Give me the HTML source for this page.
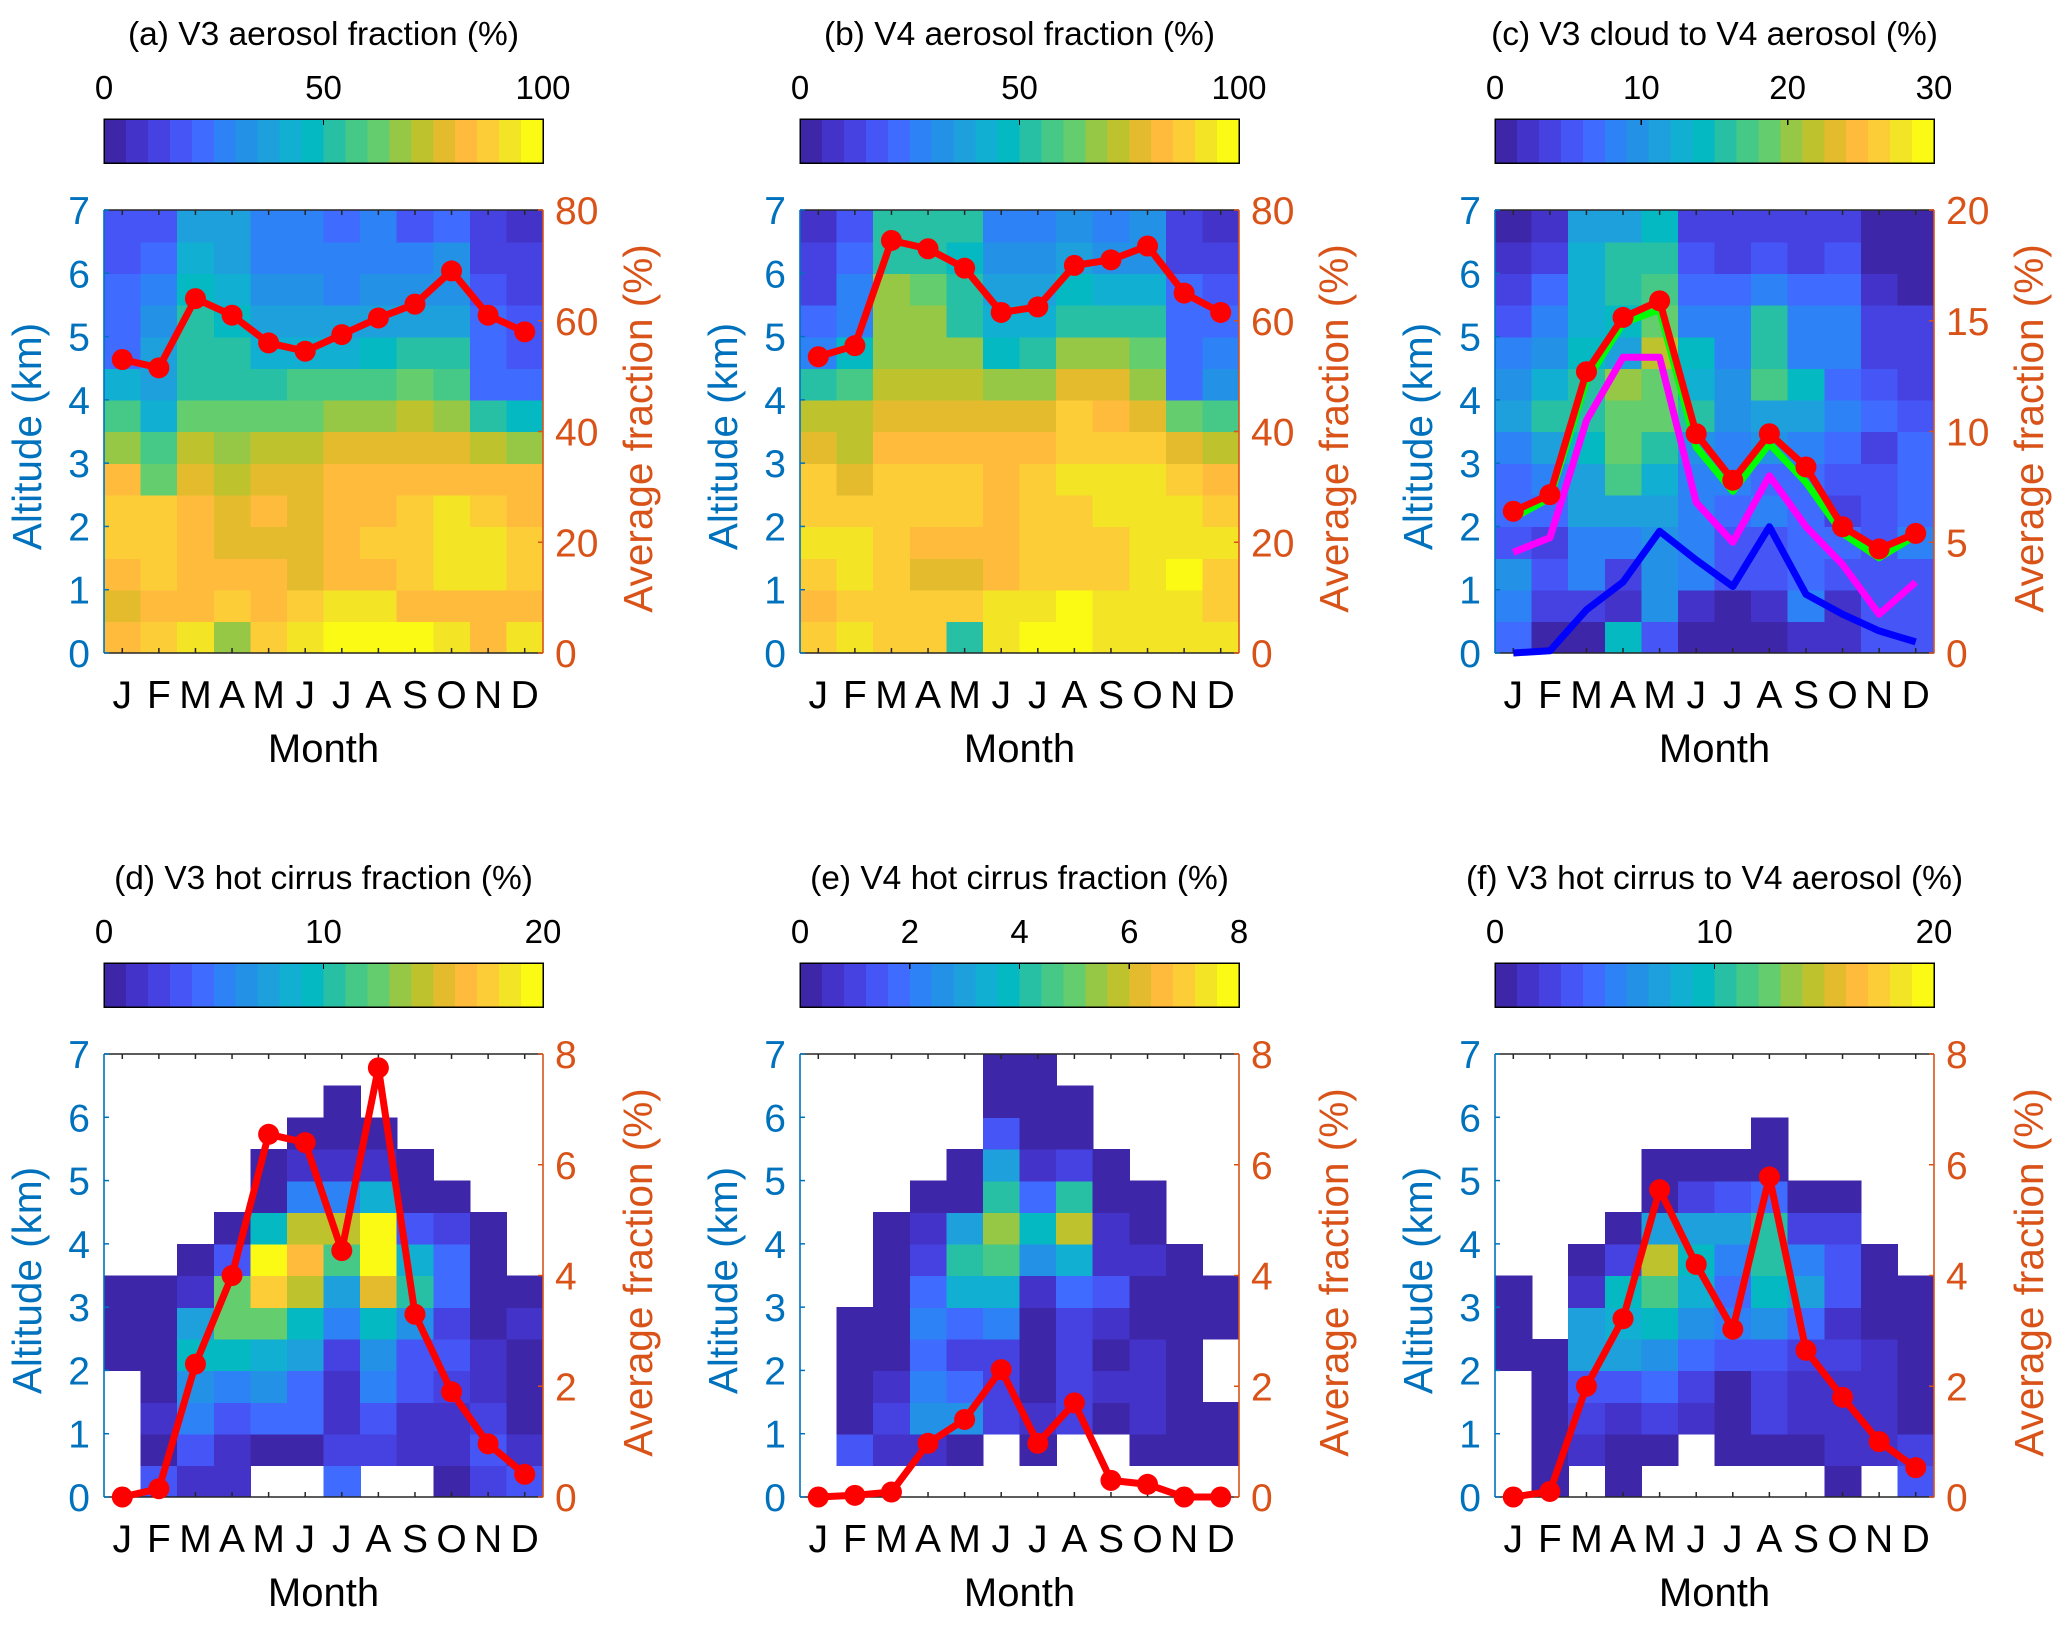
<!DOCTYPE html>
<html><head><meta charset="utf-8">
<style>
html,body{margin:0;padding:0;background:#fff;}
svg{display:block;font-family:"Liberation Sans",Arial,sans-serif;}
</style></head>
<body>
<svg id="fig" width="2067" height="1625" viewBox="0 0 2067 1625" xmlns="http://www.w3.org/2000/svg"></svg>
<script>
// ---------- data ----------
const months = ["J","F","M","A","M","J","J","A","S","O","N","D"];
const altTicks = [0,1,2,3,4,5,6,7];
// heat arrays: colour-bin level (0..19) per cell, rows from 0-0.5 km (first) to 6.5-7 km (last); null = no data
const heatA = [
 [16,17,18,13,17,18,19,19,19,18,16,18],
 [15,16,16,17,16,17,18,18,16,16,16,16],
 [16,17,16,16,16,15,16,16,17,18,18,17],
 [17,17,16,15,15,15,16,17,17,18,18,17],
 [17,17,16,15,16,15,16,16,17,18,17,16],
 [16,12,15,14,15,15,16,16,16,16,16,16],
 [13,11,14,13,14,14,15,15,15,15,14,13],
 [11,8,12,12,12,12,13,13,14,13,10,9],
 [8,7,10,10,10,11,11,11,12,11,4,4],
 [4,7,10,10,8,8,8,9,10,10,4,3],
 [4,6,10,9,7,7,7,7,7,7,4,3],
 [4,5,9,8,6,6,5,6,6,6,3,2],
 [3,4,8,7,5,5,5,5,5,6,2,2],
 [3,3,7,7,5,5,4,5,3,4,2,1]];
const heatB = [
 [17,18,17,17,10,18,19,19,18,18,18,18],
 [16,17,17,17,17,18,18,19,18,18,18,17],
 [17,18,17,15,15,16,17,17,17,18,19,17],
 [18,18,17,16,16,16,17,17,17,18,18,18],
 [17,17,17,17,17,16,17,17,18,18,18,17],
 [17,15,17,17,17,16,17,18,18,18,17,16],
 [15,14,16,16,16,16,16,17,17,17,15,14],
 [14,14,15,15,15,15,15,17,16,15,12,11],
 [10,11,14,14,14,13,13,15,15,13,4,6],
 [5,9,13,13,13,9,10,13,13,12,4,5],
 [4,5,13,13,10,8,8,10,10,10,4,4],
 [2,5,13,12,10,7,7,9,8,8,4,3],
 [2,4,10,10,9,6,6,7,6,6,2,2],
 [1,3,10,10,10,5,5,6,5,6,2,1]];
const heatC = [
 [4,0,0,9,3,0,0,0,1,1,3,3],
 [5,2,2,1,6,1,0,1,5,1,3,3],
 [6,3,5,2,6,5,3,3,4,3,3,3],
 [3,2,5,5,6,5,3,3,4,4,3,5],
 [4,4,7,7,7,5,4,5,4,2,3,4],
 [4,5,7,11,8,5,5,4,4,3,3,4],
 [5,7,9,12,10,6,5,6,5,4,2,4],
 [7,10,10,12,12,10,6,7,7,5,4,3],
 [6,8,10,13,12,8,6,11,9,4,3,2],
 [5,6,9,7,14,9,5,10,5,5,2,2],
 [3,5,8,9,12,5,5,10,5,5,2,2],
 [2,4,8,10,11,4,4,5,4,4,1,0],
 [1,2,8,10,10,3,2,3,2,3,0,0],
 [0,1,7,7,9,2,2,2,2,2,0,0]];
const _ = null;
const heatD = [
 [_,3,1,1,_,_,4,_,_,0,2,3],
 [_,0,3,1,0,0,2,2,1,1,3,1],
 [_,1,5,3,4,4,1,3,1,1,2,0],
 [_,0,6,5,6,4,1,5,3,2,1,0],
 [0,0,9,9,8,7,2,6,3,3,1,0],
 [0,0,7,12,12,9,5,9,6,2,0,1],
 [0,0,1,12,17,14,7,15,10,4,0,0],
 [_,_,0,3,19,16,11,19,8,4,0,_],
 [_,_,_,0,9,14,14,19,3,2,0,_],
 [_,_,_,_,0,5,5,8,0,0,_,_],
 [_,_,_,_,0,1,1,1,0,_,_,_],
 [_,_,_,_,_,0,0,0,_,_,_,_],
 [_,_,_,_,_,_,0,_,_,_,_,_],
 [_,_,_,_,_,_,_,_,_,_,_,_]];
const heatE = [
 [_,_,_,_,_,_,_,_,_,_,_,_],
 [_,3,1,1,0,_,0,_,_,0,0,0],
 [_,0,2,6,6,2,1,2,0,1,0,0],
 [_,0,1,5,4,2,0,2,1,1,0,_],
 [_,0,0,4,2,2,0,2,0,1,0,_],
 [_,0,0,5,4,5,0,2,1,0,0,0],
 [_,_,0,4,8,8,1,4,3,0,0,0],
 [_,_,0,2,10,11,6,8,1,1,0,_],
 [_,_,0,1,7,13,9,14,1,0,_,_],
 [_,_,_,0,0,10,4,10,0,0,_,_],
 [_,_,_,_,0,7,1,2,0,_,_,_],
 [_,_,_,_,_,3,0,0,_,_,_,_],
 [_,_,_,_,_,0,0,0,_,_,_,_],
 [_,_,_,_,_,0,0,_,_,_,_,_]];
const heatF = [
 [_,0,_,0,_,_,_,_,_,0,_,3],
 [_,0,1,0,0,_,0,0,0,1,1,2],
 [_,0,2,1,2,1,0,2,1,1,1,0],
 [_,0,3,3,4,2,0,2,1,1,1,0],
 [0,0,7,7,6,4,3,3,2,2,1,0],
 [0,_,7,8,9,6,5,6,4,1,0,0],
 [0,_,1,9,11,8,4,9,7,3,0,0],
 [_,_,0,2,14,9,5,10,5,3,0,_],
 [_,_,_,0,7,7,7,10,2,2,_,_],
 [_,_,_,_,0,2,3,4,0,0,_,_],
 [_,_,_,_,0,0,0,0,_,_,_,_],
 [_,_,_,_,_,_,_,0,_,_,_,_],
 [_,_,_,_,_,_,_,_,_,_,_,_],
 [_,_,_,_,_,_,_,_,_,_,_,_]];
// line series (right axis, %)
const avgA = [53,51.5,64,61,56,54.5,57.5,60.5,63,69,61,58];
const avgB = [53.5,55.5,74.5,73,69.5,61.5,62.5,70,71,73.5,65,61.5];
const avgCred = [6.4,7.15,12.7,15.15,15.9,9.9,7.8,9.9,8.4,5.7,4.7,5.4];
const avgCgreen = [6.1,7.0,12.3,14.9,15.5,9.3,7.3,9.45,7.7,5.4,4.3,5.3];
const avgCmag = [4.55,5.2,10.5,13.35,13.35,6.8,5.0,8.0,5.7,4.0,1.75,3.2];
const avgCblue = [0,0.1,1.95,3.2,5.5,4.2,3.0,5.7,2.65,1.75,1.0,0.5];
const avgD = [0,0.15,2.4,4.0,6.55,6.4,4.45,7.75,3.3,1.9,0.96,0.41];
const avgE = [0,0.03,0.09,0.97,1.4,2.3,0.97,1.7,0.3,0.23,0,0];
const avgF = [0,0.1,2.0,3.22,5.55,4.2,3.03,5.78,2.65,1.8,1.0,0.53];
const cbTicksA = [0,50,100];
const cbTicksC = [0,10,20,30];
const cbTicksD = [0,10,20];
const cbTicksE = [0,2,4,6,8];
const rTicks80 = [0,20,40,60,80];
const rTicks20 = [0,5,10,15,20];
const rTicks8 = [0,2,4,6,8];

// ---------- rendering ----------
const NS = "http://www.w3.org/2000/svg";
const svg = document.getElementById("fig");
const palette = ["#3d26a8","#4333c8","#4642e1","#4655f5","#3f6bff","#2d82f5","#2391e6","#1ea0dc","#11afd2","#05b9c3","#28c0a5","#46c887","#64cd6e","#96c846","#bec32d","#e4bb2d","#febb3c","#fdcd37","#f3e426","#fafa14"];
const BLUE = "#0072BD", ORANGE = "#D95319";

function mk(tag, attrs, parent, text) {
  const el = document.createElementNS(NS, tag);
  for (const k in attrs) el.setAttribute(k, attrs[k]);
  if (text !== undefined) el.textContent = text;
  (parent || svg).appendChild(el);
  return el;
}

const panels = [
  {id:"a", title:"(a) V3 aerosol fraction (%)", x:104, y:210, heat:heatA, cbMax:100, cbTicks:cbTicksA, rMax:80, rTicks:rTicks80, lines:[{d:avgA,c:"#ff0000",m:true}]},
  {id:"b", title:"(b) V4 aerosol fraction (%)", x:800, y:210, heat:heatB, cbMax:100, cbTicks:cbTicksA, rMax:80, rTicks:rTicks80, lines:[{d:avgB,c:"#ff0000",m:true}]},
  {id:"c", title:"(c) V3 cloud to V4 aerosol (%)", x:1495, y:210, heat:heatC, cbMax:30, cbTicks:cbTicksC, rMax:20, rTicks:rTicks20,
    lines:[{d:avgCred,c:"#ff0000",m:true},{d:avgCgreen,c:"#00ff00",m:false},{d:avgCmag,c:"#ff00ff",m:false},{d:avgCblue,c:"#0000ff",m:false}]},
  {id:"d", title:"(d) V3  hot cirrus fraction  (%)", x:104, y:1054, heat:heatD, cbMax:20, cbTicks:cbTicksD, rMax:8, rTicks:rTicks8, lines:[{d:avgD,c:"#ff0000",m:true}]},
  {id:"e", title:"(e) V4  hot cirrus  fraction  (%)", x:800, y:1054, heat:heatE, cbMax:8, cbTicks:cbTicksE, rMax:8, rTicks:rTicks8, lines:[{d:avgE,c:"#ff0000",m:true}]},
  {id:"f", title:"(f) V3  hot cirrus  to V4 aerosol (%)", x:1495, y:1054, heat:heatF, cbMax:20, cbTicks:cbTicksD, rMax:8, rTicks:rTicks8, lines:[{d:avgF,c:"#ff0000",m:true}]}
];
const W = 439, H = 443;

panels.forEach(p => {
  const g = mk("g", {});
  
  
  const xS = i => p.x + (i + 0.5) * W / 12;
  const yAlt = a => p.y + H - a / 7 * H;
  const yR = v => p.y + H - v / p.rMax * H;

  const t = mk("text", {x: p.x + W/2, y: p.y - 165, "text-anchor":"middle", "font-size":33.5, fill:"#000"}, g, p.title);
  
  

  const cbY = p.y - 91, cbH = 44;
  const cb = mk("g", {"shape-rendering":"crispEdges"}, g);
  
  
  for (let k = 0; k < 20; k++) {
    mk("rect", {x: p.x + k*W/20, y: cbY, width: W/20 + 0.6, height: cbH, fill: palette[k]}, cb);
  }
  mk("rect", {x: p.x, y: cbY, width: W, height: cbH, fill:"none", stroke:"#000", "stroke-width":1.5}, cb);
  p.cbTicks.forEach(v => {
    const tx = p.x + v / p.cbMax * W;
    mk("line", {x1:tx, x2:tx, y1:cbY, y2:cbY+6, stroke:"#000", "stroke-width":1.2}, cb);
    const tl = mk("text", {x: tx, y: cbY - 20, "text-anchor":"middle", "font-size":33, fill:"#000"}, g, String(v));
    
    
  });

  const hg = mk("g", {"shape-rendering":"crispEdges"}, g);
  
  
  p.heat.forEach((row, r) => {
    row.forEach((lv, c) => {
      if (lv === null) return;
      const x0 = p.x + c * W / 12, x1 = p.x + (c + 1) * W / 12;
      const y1 = yAlt(r * 0.5), y0 = yAlt((r + 1) * 0.5);
      const cell = mk("rect", {x: x0, y: y0, width: x1 - x0 + 0.7, height: y1 - y0 + 0.7, fill: palette[Math.max(0, Math.min(19, lv))]}, hg);
      
      
    });
  });

  mk("line", {x1:p.x, x2:p.x+W, y1:p.y, y2:p.y, stroke:"#262626", "stroke-width":1.6}, g);
  mk("line", {x1:p.x, x2:p.x+W, y1:p.y+H, y2:p.y+H, stroke:"#262626", "stroke-width":1.6}, g);
  mk("line", {x1:p.x, x2:p.x, y1:p.y, y2:p.y+H, stroke:BLUE, "stroke-width":1.6}, g);
  mk("line", {x1:p.x+W, x2:p.x+W, y1:p.y, y2:p.y+H, stroke:ORANGE, "stroke-width":1.6}, g);

  months.forEach((m, i) => {
    const tx = xS(i);
    mk("line", {x1:tx, x2:tx, y1:p.y, y2:p.y+5, stroke:"#262626", "stroke-width":1.5}, g);
    mk("line", {x1:tx, x2:tx, y1:p.y+H, y2:p.y+H-5, stroke:"#262626", "stroke-width":1.5}, g);
    const ml = mk("text", {x: tx, y: p.y + H + 55, "text-anchor":"middle", "font-size":39, fill:"#000"}, g, m);
    
    
  });
  const xt = mk("text", {x: p.x + W/2, y: p.y + H + 109, "text-anchor":"middle", "font-size":40, fill:"#000"}, g, "Month");
  
  

  altTicks.forEach(a => {
    const ty = yAlt(a);
    mk("line", {x1:p.x, x2:p.x+5, y1:ty, y2:ty, stroke:BLUE, "stroke-width":1.5}, g);
    const al = mk("text", {x: p.x - 14, y: ty + 14, "text-anchor":"end", "font-size":39, fill:BLUE}, g, String(a));
    
    
  });
  const ly = mk("text", {x: 0, y: 0, "text-anchor":"middle", "font-size":40.5, fill:BLUE,
    transform:`translate(${p.x-63},${p.y+H/2+5}) rotate(-90)`}, g, "Altitude (km)");
  
  

  p.rTicks.forEach(v => {
    const ty = yR(v);
    mk("line", {x1:p.x+W, x2:p.x+W-5, y1:ty, y2:ty, stroke:ORANGE, "stroke-width":1.5}, g);
    const rl = mk("text", {x: p.x + W + 12, y: ty + 14, "text-anchor":"start", "font-size":39, fill:ORANGE}, g, String(v));
    
    
  });
  const ry = mk("text", {x: 0, y: 0, "text-anchor":"middle", "font-size":40.5, fill:ORANGE,
    transform:`translate(${p.x+W+109},${p.y+H/2-3}) rotate(-90)`}, g, "Average fraction (%)");
  
  

  p.lines.slice().reverse().forEach(L => {
    const pts = L.d.map((v, i) => xS(i).toFixed(1) + "," + yR(v).toFixed(1)).join(" ");
    const pl = mk("polyline", {points: pts, fill:"none", stroke:L.c, "stroke-width":7, "stroke-linejoin":"round"}, g);
    
    
    if (L.m) {
      L.d.forEach((v, i) => {
        const c = mk("circle", {cx: xS(i), cy: yR(v), r: 10.5, fill:L.c}, g);
        
        
      });
    }
  });
});
</script>
</body></html>
